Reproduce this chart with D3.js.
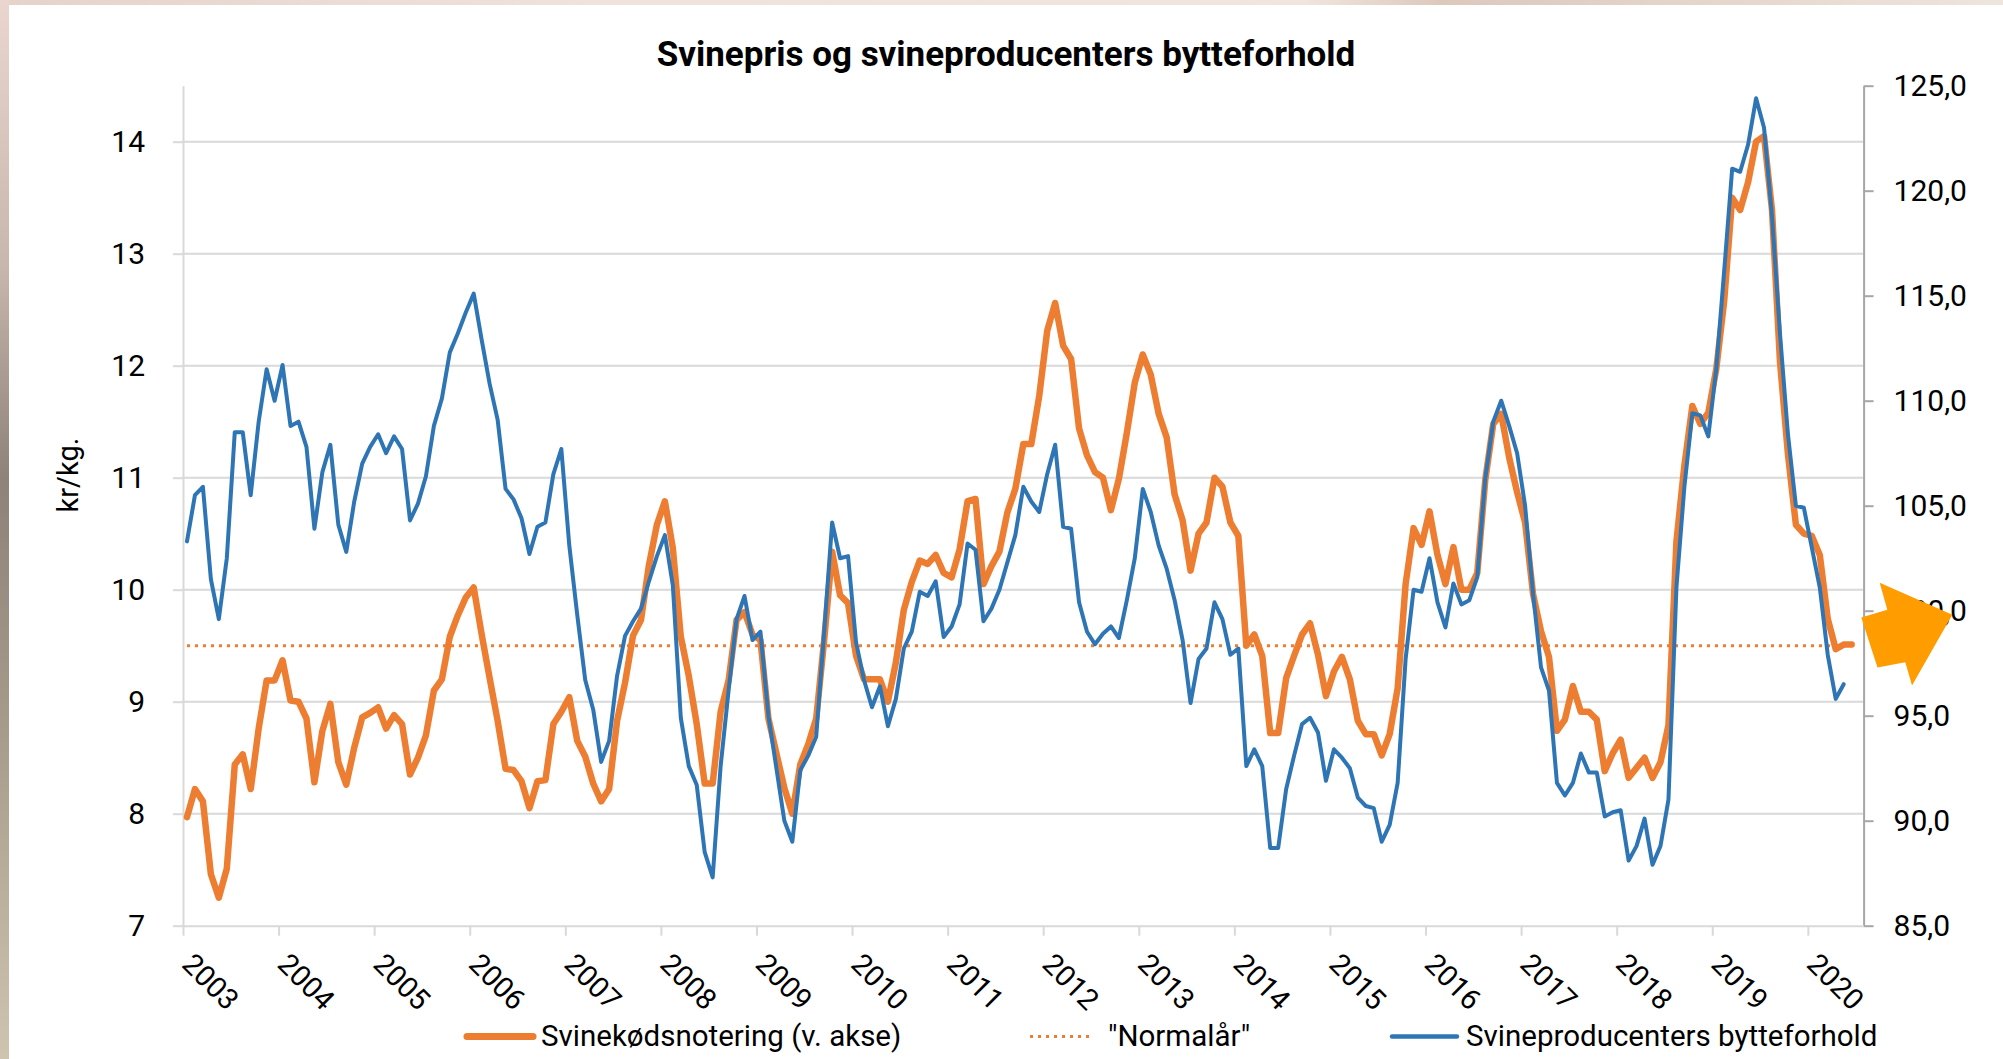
<!DOCTYPE html>
<html>
<head>
<meta charset="utf-8">
<script src="https://cdn.jsdelivr.net/npm/d3@7"></script>
<style>
html, body { margin: 0; padding: 0; }
body { width: 2003px; height: 1059px; overflow: hidden; background: #fff; }
svg { display: block; font-family: Roboto, 'Open Sans', sans-serif; }
</style>
</head>
<body>
<svg id="chart" width="2003" height="1059"></svg>
<script>
// Month categories Jan 2003 .. Jul 2020, labelled once a year
var years = ['2003', '2004', '2005', '2006', '2007', '2008', '2009', '2010', '2011',
    '2012', '2013', '2014', '2015', '2016', '2017', '2018', '2019', '2020'];
var monthCount = 211;

// Svinekødsnotering, kr/kg (left axis)
var svinepris = [
    7.97, 8.22, 8.11, 7.46, 7.25, 7.51, 8.44, 8.53, 8.22, 8.76, 9.19, 9.19,
    9.37, 9.01, 9.00, 8.85, 8.28, 8.74, 8.98, 8.46, 8.26, 8.59, 8.86, 8.90,
    8.95, 8.76, 8.88, 8.80, 8.35, 8.50, 8.70, 9.10, 9.20, 9.58, 9.77, 9.93,
    10.02, 9.60, 9.21, 8.83, 8.40, 8.39, 8.29, 8.05, 8.29, 8.30, 8.80, 8.91,
    9.04, 8.65, 8.51, 8.27, 8.11, 8.22, 8.83, 9.17, 9.59, 9.73, 10.22, 10.58,
    10.79, 10.37, 9.58, 9.23, 8.80, 8.27, 8.27, 8.91, 9.19, 9.73, 9.80, 9.60,
    9.55, 8.85, 8.54, 8.23, 8.00, 8.44, 8.62, 8.85, 9.55, 10.34, 9.95, 9.88,
    9.41, 9.20, 9.20, 9.20, 9.00, 9.35, 9.82, 10.07, 10.26, 10.23, 10.31, 10.15,
    10.11, 10.36, 10.79, 10.81, 10.05, 10.21, 10.34, 10.69, 10.90, 11.30, 11.30, 11.73,
    12.31, 12.56, 12.18, 12.06, 11.44, 11.20, 11.05, 11.00, 10.71, 10.99, 11.40, 11.85,
    12.10, 11.92, 11.57, 11.36, 10.85, 10.62, 10.17, 10.50, 10.60, 11.00, 10.92, 10.60,
    10.48, 9.50, 9.60, 9.41, 8.72, 8.72, 9.21, 9.41, 9.60, 9.70, 9.42, 9.05,
    9.27, 9.40, 9.20, 8.83, 8.71, 8.71, 8.52, 8.71, 9.12, 10.05, 10.55, 10.40,
    10.70, 10.31, 10.05, 10.38, 10.00, 10.00, 10.15, 10.98, 11.48, 11.57, 11.18, 10.87,
    10.60, 9.96, 9.63, 9.40, 8.74, 8.84, 9.14, 8.91, 8.91, 8.84, 8.38, 8.54,
    8.66, 8.32, 8.41, 8.50, 8.32, 8.46, 8.79, 10.43, 11.11, 11.64, 11.48, 11.58,
    11.97, 12.58, 13.50, 13.39, 13.64, 14.00, 14.05, 13.39, 12.04, 11.21, 10.58, 10.50,
    10.48, 10.31, 9.74, 9.47, 9.51, 9.51
];

// Svineproducenters bytteforhold (right axis)
var bytteforhold = [
    103.3, 105.5, 105.9, 101.5, 99.6, 102.5, 108.5, 108.5, 105.5, 109.0, 111.5, 110.0,
    111.7, 108.8, 109.0, 107.8, 103.9, 106.6, 107.9, 104.1, 102.8, 105.2, 107.0, 107.8,
    108.4, 107.5, 108.3, 107.7, 104.3, 105.1, 106.4, 108.8, 110.1, 112.3, 113.2, 114.2,
    115.1, 112.9, 110.8, 109.1, 105.8, 105.3, 104.4, 102.7, 104.0, 104.2, 106.5, 107.7,
    103.1, 99.8, 96.7, 95.3, 92.8, 93.8, 96.9, 98.8, 99.5, 100.1, 101.4, 102.6,
    103.6, 101.2, 94.9, 92.6, 91.7, 88.5, 87.3, 92.6, 96.2, 99.6, 100.7, 98.6,
    99.0, 95.0, 92.5, 90.0, 89.0, 92.4, 93.1, 94.0, 99.0, 104.2, 102.5, 102.6,
    98.5, 96.7, 95.4, 96.4, 94.5, 95.8, 98.2, 99.0, 100.9, 100.7, 101.4, 98.75,
    99.25, 100.3, 103.2, 102.9, 99.5, 100.1, 101.0, 102.3, 103.6, 105.9, 105.2, 104.7,
    106.5, 107.9, 104.0, 103.9, 100.4, 99.0, 98.4, 98.9, 99.25, 98.7, 100.5, 102.5,
    105.8, 104.7, 103.1, 102.0, 100.5, 98.6, 95.6, 97.7, 98.2, 100.4, 99.6, 97.9,
    98.2, 92.6, 93.4, 92.6, 88.7, 88.7, 91.5, 93.1, 94.6, 94.9, 94.2, 91.9,
    93.4, 93.0, 92.5, 91.1, 90.7, 90.6, 89.0, 89.8, 91.8, 97.7, 101.0, 100.9,
    102.5, 100.4, 99.2, 101.3, 100.3, 100.5, 101.6, 106.3, 109.0, 110.0, 108.8, 107.5,
    105.0, 100.8, 97.3, 96.2, 91.8, 91.2, 91.8, 93.2, 92.3, 92.3, 90.2, 90.4,
    90.5, 88.1, 88.8, 90.1, 87.9, 88.8, 91.0, 101.1, 105.9, 109.4, 109.3, 108.3,
    111.5, 116.2, 121.05, 120.9, 122.2, 124.4, 123.0, 118.8, 113.2, 108.4, 105.0, 104.9,
    103.0, 101.1, 97.9, 95.8, 96.5
];

// "Normalår" reference level, kr/kg
var normalaar = 9.5;

var leftTicks = [7, 8, 9, 10, 11, 12, 13, 14];
var rightTicks = [85, 90, 95, 100, 105, 110, 115, 120, 125];
var seriesNames = ['Svinekødsnotering (v. akse)', '"Normalår"', 'Svineproducenters bytteforhold'];

var orange = '#ed7d31';
var blue = '#2e75b6';
var grid = '#d9d9d9';

var plotLeft = 183, plotRight = 1863.6, plotTop = 85.7, plotBottom = 925.7;

var svg = d3.select('#chart');


// Backdrop: the chart sits on a photo, only a thin edge of it shows
var defs = svg.append('defs');
var sideGrad = defs.append('linearGradient')
    .attr('id', 'side')
    .attr('x1', 0).attr('y1', 0).attr('x2', 0).attr('y2', 1);
sideGrad.selectAll('stop')
    .data([['0', '#ead6cf'], ['0.25', '#c8b7ad'], ['0.45', '#8e8279'], ['0.7', '#a89c8c'], ['1', '#cfc4b0']])
    .join('stop')
    .attr('offset', function(d) { return d[0]; })
    .attr('stop-color', function(d) { return d[1]; });
var topGrad = defs.append('linearGradient')
    .attr('id', 'top')
    .attr('x1', 0).attr('y1', 0).attr('x2', 1).attr('y2', 0);
topGrad.selectAll('stop')
    .data([['0', '#e6d2ca'], ['0.3', '#efe3dc'], ['0.65', '#f0e6de'], ['0.72', '#ddc8bc'], ['1', '#eee5dd']])
    .join('stop')
    .attr('offset', function(d) { return d[0]; })
    .attr('stop-color', function(d) { return d[1]; });

svg.append('rect').attr('width', 2003).attr('height', 1059).attr('fill', 'url(#top)');
svg.append('rect').attr('width', 9).attr('height', 1059).attr('fill', 'url(#side)');
svg.append('rect')
    .attr('x', 9).attr('y', 5)
    .attr('width', 1994).attr('height', 1054)
    .attr('fill', '#fff');


// Scales
var xm = d3.scaleLinear().domain([0, monthCount]).range([plotLeft, plotRight]);
var yL = d3.scaleLinear().domain([7, 14.5]).range([plotBottom, plotTop]);
var yR = d3.scaleLinear().domain([85, 125]).range([plotBottom, plotTop]);

function xPos(d, i) {
    return xm(i + 0.5);
}


// Gridlines follow the left axis
svg.append('g')
    .selectAll('line')
    .data(leftTicks.slice(1))
    .join('line')
    .attr('x1', plotLeft)
    .attr('x2', plotRight)
    .attr('y1', function(d) { return yL(d); })
    .attr('y2', function(d) { return yL(d); })
    .attr('stroke', grid)
    .attr('stroke-width', 2);


// Axes
function styleAxis(g, lineColor, size) {
    g.attr('font-family', "Roboto, 'Open Sans', sans-serif")
        .attr('font-size', size);
    g.select('.domain').attr('stroke', lineColor).attr('stroke-width', 2);
    g.selectAll('.tick line').attr('stroke', lineColor).attr('stroke-width', 2);
    g.selectAll('.tick text').attr('fill', '#000');
}

svg.append('g')
    .attr('transform', 'translate(' + plotLeft + ',0)')
    .call(d3.axisLeft(yL)
        .tickValues(leftTicks)
        .tickSize(10)
        .tickSizeOuter(0)
        .tickPadding(28))
    .call(styleAxis, grid, 30);

svg.append('g')
    .attr('transform', 'translate(' + plotRight + ',0)')
    .call(d3.axisRight(yR)
        .tickValues(rightTicks)
        .tickSize(10)
        .tickSizeOuter(0)
        .tickPadding(20)
        .tickFormat(function(d) { return d.toFixed(1).replace('.', ','); }))
    .call(styleAxis, '#a6a6a6', 30);

svg.append('g')
    .attr('transform', 'translate(0,' + plotBottom + ')')
    .call(d3.axisBottom(xm)
        .tickValues(d3.range(0, monthCount, 12))
        .tickSize(10)
        .tickSizeOuter(0)
        .tickFormat(function(d) { return years[d / 12]; }))
    .call(styleAxis, grid, 29)
    .selectAll('.tick text')
    .attr('x', 0)
    .attr('y', 0)
    .attr('dy', 0)
    .attr('text-anchor', 'start')
    .attr('transform', 'translate(-3,40) rotate(45)');


// Series
var lineL = d3.line().x(xPos).y(function(d) { return yL(d); });
var lineR = d3.line().x(xPos).y(function(d) { return yR(d); });

svg.append('path')
    .datum(svinepris)
    .attr('d', lineL)
    .attr('fill', 'none')
    .attr('stroke', orange)
    .attr('stroke-width', 6.5)
    .attr('stroke-linejoin', 'round')
    .attr('stroke-linecap', 'round');

svg.append('line')
    .attr('x1', xm(0.5))
    .attr('x2', xm(svinepris.length - 0.5))
    .attr('y1', yL(normalaar))
    .attr('y2', yL(normalaar))
    .attr('stroke', orange)
    .attr('stroke-width', 3)
    .attr('stroke-dasharray', '3,5');

svg.append('path')
    .datum(bytteforhold)
    .attr('d', lineR)
    .attr('fill', 'none')
    .attr('stroke', blue)
    .attr('stroke-width', 4)
    .attr('stroke-linejoin', 'round')
    .attr('stroke-linecap', 'round');


// Titles
svg.append('text')
    .attr('x', 1006)
    .attr('y', 66)
    .attr('text-anchor', 'middle')
    .attr('font-size', 35)
    .attr('font-weight', 'bold')
    .attr('fill', '#000')
    .text('Svinepris og svineproducenters bytteforhold');

svg.append('text')
    .attr('transform', 'translate(78,475) rotate(-90)')
    .attr('text-anchor', 'middle')
    .attr('font-size', 29)
    .attr('fill', '#000')
    .text('kr/kg.');


// Legend
var legend = [
    { name: seriesNames[0], color: orange, width: 7, dash: null, x1: 467, x2: 533, tx: 541 },
    { name: seriesNames[1], color: orange, width: 3, dash: '3,5', x1: 1030, x2: 1094, tx: 1108 },
    { name: seriesNames[2], color: blue, width: 4.5, dash: null, x1: 1392, x2: 1457, tx: 1466 }
];

var items = svg.append('g')
    .selectAll('g')
    .data(legend)
    .join('g');

items.append('line')
    .attr('x1', function(d) { return d.x1; })
    .attr('x2', function(d) { return d.x2; })
    .attr('y1', 1036.5)
    .attr('y2', 1036.5)
    .attr('stroke', function(d) { return d.color; })
    .attr('stroke-width', function(d) { return d.width; })
    .attr('stroke-linecap', function(d) { return d.dash ? 'butt' : 'round'; })
    .attr('stroke-dasharray', function(d) { return d.dash; });

items.append('text')
    .attr('x', function(d) { return d.tx; })
    .attr('y', 1046)
    .attr('font-size', 29.5)
    .attr('fill', '#000')
    .text(function(d) { return d.name; });


// Orange block arrow pasted over the right axis
var arrow = [[1861.3, 617.6], [1887.3, 609.8], [1879.7, 582.7], [1952.3, 614.8],
    [1912, 685.4], [1905.3, 662.2], [1877.5, 667.6]];

svg.append('path')
    .attr('d', 'M' + arrow.join('L') + 'Z')
    .attr('fill', '#ff9c00');
</script>
</body>
</html>
